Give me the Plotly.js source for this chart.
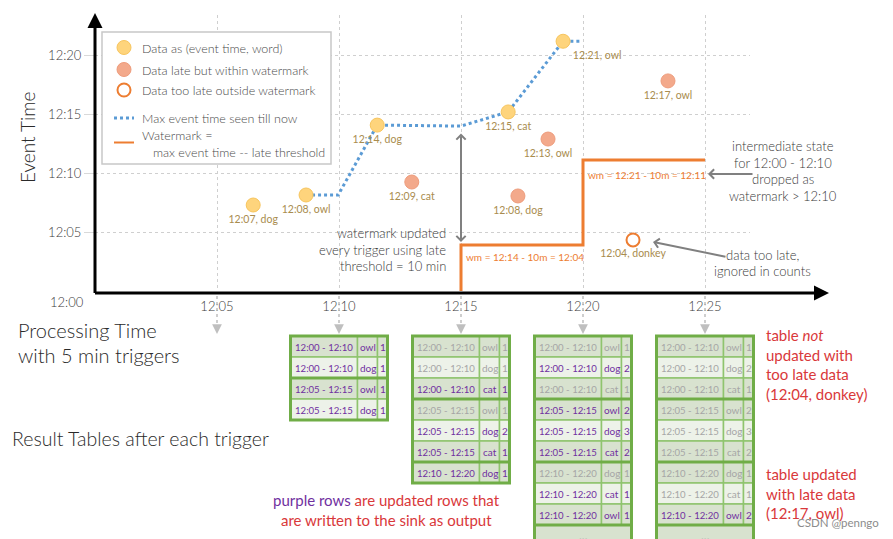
<!DOCTYPE html>
<html><head><meta charset="utf-8">
<script src="https://cdn.plot.ly/plotly-3.0.1.min.js"></script>
<style>html,body{margin:0;padding:0;background:#fff}#chart{width:893px;height:539px}</style>
</head><body><div id="chart"></div>
<script>
// ---------------- data ----------------
const triggers = ['12:05','12:10','12:15','12:20','12:25'];
const yTicks   = ['12:05','12:10','12:15','12:20'];

const onTimeProc  = ['12:06:29','12:08:39','12:11:34','12:16:56','12:19:11'];
const onTimeEvent = ['12:07:18','12:08:09','12:14:05','12:15:12','12:21:12'];
const onTimeLabel = ['12:07, dog','12:08, owl','12:14, dog','12:15, cat','12:21, owl'];

const lateProc  = ['12:12:59','12:17:20','12:18:34','12:23:29'];
const lateEvent = ['12:09:15','12:08:04','12:12:54','12:17:50'];
const lateLabel = ['12:09, cat','12:08, dog','12:13, owl','12:17, owl'];

const tooLateProc  = ['12:22:03'];
const tooLateEvent = ['12:04:20'];
const tooLateLabel = ['12:04, donkey'];

const maxProc  = ['12:08:39','12:09:58','12:11:34','12:15:00','12:16:56','12:19:11','12:19:53'];
const maxEvent = ['12:08:09','12:08:09','12:14:05','12:14:00','12:15:12','12:21:12','12:21:12'];

const wmProc  = ['12:15:00','12:15:00','12:20:00','12:20:00','12:25:00'];
const wmEvent = ['11:59:50','12:03:54','12:03:54','12:11:07','12:11:07'];
const wmLabel = ['wm = 12:14 - 10m = 12:04','wm = 12:21 - 10m = 12:11'];

const tableTimes = ['12:10','12:15','12:20','12:25'];
const t1Window = ['12:00 - 12:10','12:00 - 12:10','12:05 - 12:15','12:05 - 12:15'];
const t1Word   = ['owl','dog','owl','dog'];
const t1Count  = [1,1,1,1];
const t1Upd    = [1,1,1,1];
const t2Window = ['12:00 - 12:10','12:00 - 12:10','12:00 - 12:10','12:05 - 12:15','12:05 - 12:15','12:05 - 12:15','12:10 - 12:20'];
const t2Word   = ['owl','dog','cat','owl','dog','cat','dog'];
const t2Count  = [1,1,1,1,2,1,1];
const t2Upd    = [0,0,1,0,1,1,1];
const t3Window = ['12:00 - 12:10','12:00 - 12:10','12:00 - 12:10','12:05 - 12:15','12:05 - 12:15','12:05 - 12:15','12:10 - 12:20','12:10 - 12:20','12:10 - 12:20'];
const t3Word   = ['owl','dog','cat','owl','dog','cat','dog','cat','owl'];
const t3Count  = [1,2,1,2,3,2,1,1,1];
const t3Upd    = [0,1,0,1,1,1,0,1,1];
const t4Window = t3Window;
const t4Word   = ['owl','dog','cat','owl','dog','cat','dog','cat','owl'];
const t4Count  = [1,2,1,2,3,2,1,1,2];
const t4Upd    = [0,0,0,0,0,0,0,0,1];
const tableMore = [false,false,true,true];

// ---------------- geometry / style ----------------
const W=893, H=539;
const X0=95, XS=24.4, Y0=291, YS=11.78, XEND=750, YTOP=15;
const FAM='Lato, sans-serif';
const GREEN='#70ad47', THIN='#8fc46e', DARK='#d8e2cf', LIGHT='#edf2e9';
const PURPLE='#7030a0', STALE='#a6a6a6', RED='#d9383a', TXT='#3a3a3a', GRAY='#808080';
const F=(size,color,w)=>({family:FAM,size:size,color:color||TXT,weight:w||300});

function mins(t){const p=t.split(':').map(Number);return (p[0]-12)*60+p[1]+(p[2]||0)/60;}
function dt(t){return '2000-01-01 '+(t.split(':').length===2?t+':00':t);}
function minToDate(m){return new Date(Date.UTC(2000,0,1,12,0,0)+m*60000).toISOString().replace('T',' ').replace('Z','');}
function xpx(t){return X0+XS*mins(t);}
const fx=x=>x/W, fy=y=>1-y/H;

const shapes=[], annotations=[];
function txt(s,x,y,o){annotations.push(Object.assign({text:s,x:fx(x),y:fy(y),xref:'paper',yref:'paper',showarrow:false,xanchor:'center',yanchor:'middle',font:F(13)},o||{}));}
function arrow(x,y,ax,ay,o){annotations.push(Object.assign({text:'',x:fx(x),y:fy(y),xref:'paper',yref:'paper',showarrow:true,ax:ax,ay:ay,arrowhead:4,arrowsize:0.9,arrowwidth:2,arrowcolor:GRAY},o||{}));}

// axes lines with arrowheads
arrow(829,293,-735.5,0,{arrowhead:2,arrowsize:1,arrowwidth:3,arrowcolor:'#000'});
arrow(95,13,0,281.5,{arrowhead:2,arrowsize:1,arrowwidth:3,arrowcolor:'#000'});

// trigger drop lines below the axis
triggers.forEach(t=>{
  const x=xpx(t);
  shapes.push({type:'line',xref:'paper',yref:'paper',x0:fx(x),x1:fx(x),y0:fy(296),y1:fy(327),line:{color:'#bfbfbf',width:1.5,dash:'dot'}});
  arrow(x,334,0,-8,{arrowhead:2,arrowsize:1.3,arrowwidth:1.5,arrowcolor:'#bfbfbf'});
});

// watermark labels
wmLabel.forEach((s,i)=>{
  annotations.push({text:s,x:dt(wmProc[1+2*i]),y:dt(wmEvent[1+2*i]),xref:'x',yref:'y',showarrow:false,xanchor:'left',yanchor:'middle',xshift:3,yshift:i===0?-12:-15,font:F(10,'#ed7d31',400)});
});

// legend (custom box)
shapes.push({type:'rect',xref:'paper',yref:'paper',x0:fx(102),x1:fx(331),y0:fy(32),y1:fy(164),fillcolor:'#fff',line:{color:'#c8c8c8',width:1.5}});
shapes.push({type:'circle',xref:'paper',yref:'paper',x0:fx(117),x1:fx(131),y0:fy(40.5),y1:fy(54.5),fillcolor:'#fed47c',line:{color:'#f7c55e',width:1}});
shapes.push({type:'circle',xref:'paper',yref:'paper',x0:fx(117),x1:fx(131),y0:fy(62.5),y1:fy(76.5),fillcolor:'#f3a98b',line:{color:'#ee9c7c',width:1}});
shapes.push({type:'circle',xref:'paper',yref:'paper',x0:fx(117.5),x1:fx(130.5),y0:fy(83.5),y1:fy(96.5),fillcolor:'#fff',line:{color:'#ed7d31',width:2}});
shapes.push({type:'line',xref:'paper',yref:'paper',x0:fx(114),x1:fx(134),y0:fy(118),y1:fy(118),line:{color:'#5b9bd5',width:3,dash:'dot'}});
shapes.push({type:'line',xref:'paper',yref:'paper',x0:fx(114),x1:fx(134),y0:fy(142.5),y1:fy(142.5),line:{color:'#ed7d31',width:2}});
const LEG={xanchor:'left',font:F(12.5,'#4a4a4a')};
txt('Data as (event time, word)',140,48,LEG);
txt('Data late but within watermark',140,70,LEG);
txt('Data too late outside watermark',140,90,LEG);
txt('Max event time seen till now',140,118,LEG);
txt('Watermark =',140,135,LEG);
txt('max event time -- late threshold',151,152.5,LEG);

// axis texts
txt('Event Time',27,137,{textangle:-90,font:F(19,'#2a2a2a')});
txt('12:00',67,302,{font:F(13)});
txt('Processing Time',16,330,{xanchor:'left',font:F(20,'#2a2a2a')});
txt('with 5 min triggers',16,355,{xanchor:'left',font:F(20,'#2a2a2a')});
txt('Result Tables after each trigger',10,438,{xanchor:'left',font:F(19.5,'#2a2a2a')});

// explanatory notes
['watermark updated','every trigger using late','threshold = 10 min'].forEach((s,i)=>txt(s,448,233+16.5*i,{xanchor:'right'}));
arrow(461,242,0,-110,{arrowside:'end+start',arrowhead:4,startarrowhead:4,arrowsize:0.9,startarrowsize:0.9,arrowwidth:2});
['intermediate state','for 12:00 - 12:10','dropped as','watermark > 12:10'].forEach((s,i)=>txt(s,783,146+16.7*i));
arrow(708,174,46,0);
['data too late,','ignored in counts'].forEach((s,i)=>txt(s,762,255+16*i));
arrow(653,242,74,15);
const REDF={xanchor:'left',font:F(15,RED,400)};
['table <i>not</i>','updated with','too late data','(12:04, donkey)'].forEach((s,i)=>txt(s,764,335+19.5*i,REDF));
['table updated','with late data','(12:17, owl)'].forEach((s,i)=>txt(s,764,474+19.5*i,REDF));
txt('<span style="color:'+PURPLE+'">purple rows</span> are updated rows that',386,500,{font:F(15,RED,400)});
txt('are written to the sink as output',386,520,{font:F(15,RED,400)});
txt('CSDN @penngo',838,522,{font:F(11.5,'#8c8c8c',400)});

// result tables
const tables=[
  {win:t1Window,word:t1Word,count:t1Count,upd:t1Upd},
  {win:t2Window,word:t2Word,count:t2Count,upd:t2Upd},
  {win:t3Window,word:t3Word,count:t3Count,upd:t3Upd},
  {win:t4Window,word:t4Word,count:t4Count,upd:t4Upd}];
const TOP=336, RH=21, CW=[67,20,10], TW=CW.reduce((a,b)=>a+b,0);
tables.forEach((tb,k)=>{
  const left=xpx(tableTimes[k])-TW/2;
  const cols=[tb.win,tb.word,tb.count];
  const n=tb.win.length, bounds=[];
  let g=0;
  for(let i=0;i<n;i++){
    if(i>0){ if(tb.win[i]!==tb.win[i-1]){g=0;bounds.push(i);} else g++; }
    const fill=(g%2===0)?DARK:LIGHT;
    let cx=left;
    for(let j=0;j<3;j++){
      shapes.push({type:'rect',xref:'paper',yref:'paper',x0:fx(cx),x1:fx(cx+CW[j]),y0:fy(TOP+i*RH),y1:fy(TOP+(i+1)*RH),fillcolor:fill,line:{color:THIN,width:1.5}});
      txt(String(cols[j][i]),cx+CW[j]/2,TOP+i*RH+RH/2+0.5,{font:F(j===0?9.6:10,tb.upd[i]?PURPLE:STALE,400)});
      cx+=CW[j];
    }
  }
  let rows=n;
  if(tableMore[k]){
    shapes.push({type:'rect',xref:'paper',yref:'paper',x0:fx(left),x1:fx(left+TW),y0:fy(TOP+n*RH),y1:fy(TOP+(n+1)*RH),fillcolor:DARK,line:{color:THIN,width:1.5}});
    txt('...',left+TW/2,TOP+n*RH+RH/2,{font:F(12,STALE,400)});
    bounds.push(n); rows=n+1;
  }
  bounds.forEach(b=>shapes.push({type:'line',xref:'paper',yref:'paper',x0:fx(left),x1:fx(left+TW),y0:fy(TOP+b*RH),y1:fy(TOP+b*RH),line:{color:GREEN,width:3}}));
  shapes.push({type:'rect',xref:'paper',yref:'paper',x0:fx(left),x1:fx(left+TW),y0:fy(TOP),y1:fy(TOP+rows*RH),line:{color:GREEN,width:3}});
});

// ---------------- traces ----------------
const PTF=F(10.5,'#a98c4e',400);
const traces=[
  {type:'scatter',mode:'lines',x:maxProc.map(dt),y:maxEvent.map(dt),line:{color:'#5b9bd5',width:3,dash:'dot'},hoverinfo:'skip'},
  {type:'scatter',mode:'lines',x:wmProc.map(dt),y:wmEvent.map(dt),line:{color:'#ed7d31',width:3},hoverinfo:'skip'},
  {type:'scatter',mode:'markers+text',x:onTimeProc.map(dt),y:onTimeEvent.map(dt),text:onTimeLabel,
   textposition:onTimeLabel.map((s,i)=>i===4?'bottom right':'bottom center'),textfont:PTF,
   marker:{size:14,color:'#fed47c',line:{color:'#f7c55e',width:1}}},
  {type:'scatter',mode:'markers+text',x:lateProc.map(dt),y:lateEvent.map(dt),text:lateLabel,textposition:'bottom center',textfont:PTF,
   marker:{size:14,color:'#f3a98b',line:{color:'#ee9c7c',width:1}}},
  {type:'scatter',mode:'markers+text',x:tooLateProc.map(dt),y:tooLateEvent.map(dt),text:tooLateLabel,textposition:'bottom center',textfont:PTF,
   marker:{size:13,color:'#fff',line:{color:'#ed7d31',width:2}}}
];

const layout={
  width:W,height:H,margin:{l:0,r:0,t:0,b:0},paper_bgcolor:'#fff',plot_bgcolor:'rgba(0,0,0,0)',
  showlegend:false,font:F(12),
  xaxis:{type:'date',domain:[X0/W,XEND/W],range:[minToDate(0),minToDate((XEND-X0)/XS)],
    tickvals:triggers.map(dt),ticktext:triggers,showgrid:true,gridcolor:'#cfcfcf',griddash:'dot',gridwidth:1,
    zeroline:false,showline:false,ticks:'',ticklabelstandoff:6,tickfont:F(13),fixedrange:true},
  yaxis:{type:'date',domain:[1-Y0/H,1-YTOP/H],range:[minToDate(0),minToDate((Y0-YTOP)/YS)],
    tickvals:yTicks.map(dt),ticktext:yTicks,showgrid:true,gridcolor:'#cfcfcf',griddash:'dot',gridwidth:1,
    zeroline:false,showline:false,ticks:'outside',ticklen:10,tickcolor:'#d9d9d9',tickwidth:1,
    tickfont:F(13),fixedrange:true},
  shapes:shapes,annotations:annotations
};
Plotly.newPlot('chart',traces,layout,{staticPlot:true,displayModeBar:false});
</script></body></html>
